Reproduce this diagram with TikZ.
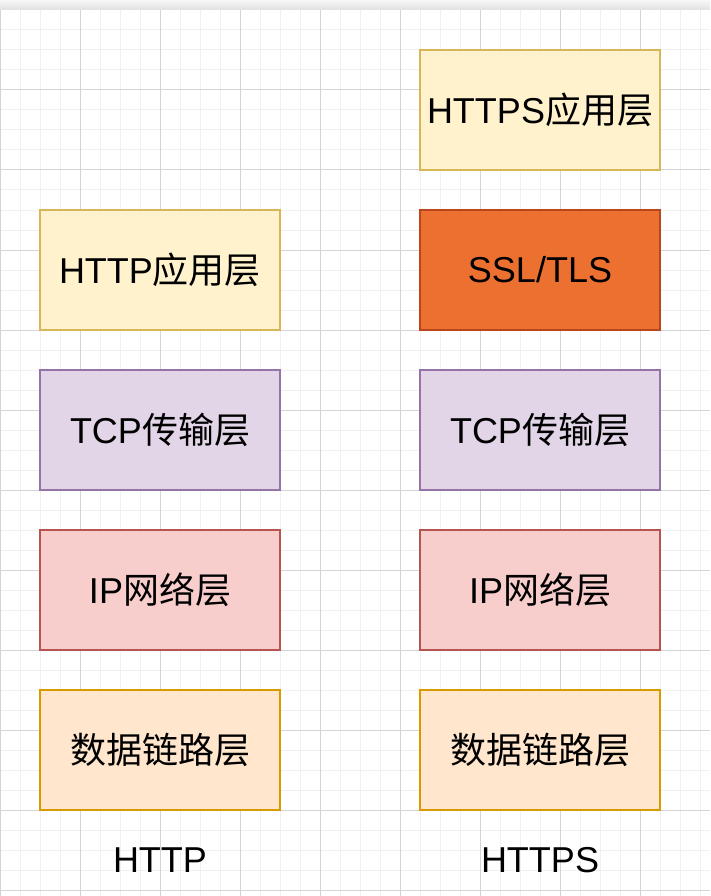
\documentclass[tikz,border=0pt]{standalone}
\usepackage{fontspec}
\setmainfont{Liberation Sans}
\newfontfamily\cjk{Noto Sans CJK SC}
\usetikzlibrary{positioning}
\definecolor{ylwF}{HTML}{FFF2CC}\definecolor{ylwD}{HTML}{D6B656}
\definecolor{purF}{HTML}{E1D5E7}\definecolor{purD}{HTML}{9673A6}
\definecolor{redF}{HTML}{F8CECC}\definecolor{redD}{HTML}{B85450}
\definecolor{orgF}{HTML}{FFE6CC}\definecolor{orgD}{HTML}{D79B00}
\definecolor{sslF}{HTML}{EC7131}\definecolor{sslD}{HTML}{B9461F}
\definecolor{gridMinor}{HTML}{F0F0F0}\definecolor{gridMajor}{HTML}{D4D4D4}
\begin{document}
\begin{tikzpicture}[x=1pt,y=-1pt,
  layer/.style={draw,line width=1.5pt,minimum width=240pt,minimum height=120pt,inner sep=0pt,
    font=\fontsize{36}{42}\selectfont,text=black},
  app/.style={layer,fill=ylwF,draw=ylwD},
  tcp/.style={layer,fill=purF,draw=purD},
  ipl/.style={layer,fill=redF,draw=redD},
  dll/.style={layer,fill=orgF,draw=orgD},
  ssl/.style={layer,fill=sslF,draw=sslD},
  coltitle/.style={font=\fontsize{36}{42}\selectfont,text=black,inner sep=0pt}]
\useasboundingbox (0,0) rectangle (710,896);
\fill[white] (0,0) rectangle (710,896);
\foreach \x in {0,20,...,700} \draw[gridMinor,line width=1pt] (\x,10) -- (\x,896);
\foreach \y in {10,30,...,890} \draw[gridMinor,line width=1pt] (0,\y) -- (710,\y);
\foreach \x in {0,80,...,640} \draw[gridMajor,line width=1pt] (\x,10) -- (\x,896);
\foreach \y in {90,170,...,890} \draw[gridMajor,line width=1pt] (0,\y) -- (710,\y);
\shade[top color=white!97!black,bottom color=white!88!black] (0,0) rectangle (710,10);
% HTTP column
\node[app] (happ) at (160,270) {HTTP{\cjk 应用层}};
\node[tcp] (htcp) at (160,430) {TCP{\cjk 传输层}};
\node[ipl] (hip) at (160,590) {IP{\cjk 网络层}};
\node[dll] (hdl) at (160,750) {{\cjk 数据链路层}};
\node[coltitle] (hlab) at (160,860) {HTTP};
% HTTPS column
\node[app] (sapp) at (540,110) {HTTPS{\cjk 应用层}};
\node[ssl] (sssl) at (540,270) {SSL/TLS};
\node[tcp] (stcp) at (540,430) {TCP{\cjk 传输层}};
\node[ipl] (sip) at (540,590) {IP{\cjk 网络层}};
\node[dll] (sdl) at (540,750) {{\cjk 数据链路层}};
\node[coltitle] (slab) at (540,860) {HTTPS};
\end{tikzpicture}
\end{document}
